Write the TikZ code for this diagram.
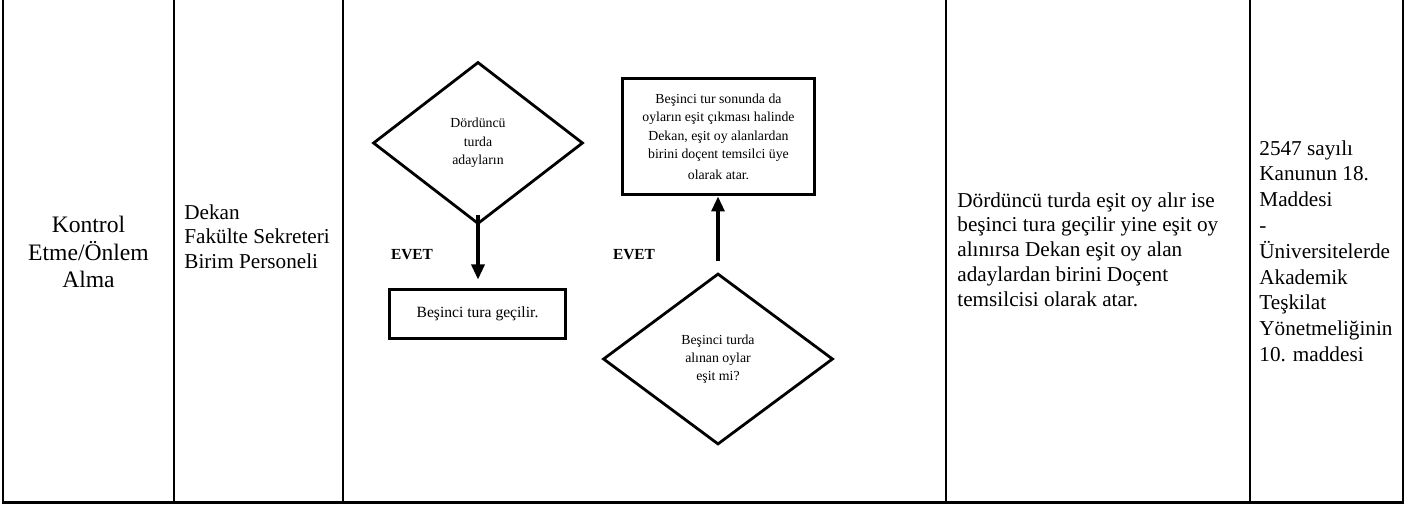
\documentclass[tikz,border=0pt]{standalone}
\usepackage{fontspec}
\setmainfont{Liberation Serif}
\usetikzlibrary{shapes.geometric, arrows.meta, positioning}
\tikzstyle{karar} = [draw=black, line width=1.4pt, diamond, inner sep=0pt, minimum width=105pt, minimum height=81pt, align=center, font=\fontsize{6.9}{9.15}\selectfont]
\tikzstyle{kutu} = [draw=black, line width=1.5pt, rectangle, inner sep=0pt, align=center]
\tikzstyle{ok} = [line width=1.6pt, -{Triangle[width=6.5pt,length=7.5pt]}]
\tikzstyle{cizgi} = [line width=1.3pt]
\tikzstyle{hucre} = [inner sep=0pt, align=left, font=\fontsize{10.6}{12.4}\selectfont]
\tikzstyle{evet} = [inner sep=0pt, font=\fontsize{7.7}{9}\selectfont\bfseries]

\begin{document}
\begin{tikzpicture}[x=0.5pt, y=-0.5pt]
	\useasboundingbox (0,0) rectangle (1416,507);
	% tablo
	\draw[cizgi] (3,0) -- (3,502.5) -- (1403,502.5) -- (1403,0);
	\foreach \x in {174,343,946,1250}
		\draw[cizgi] (\x,0) -- (\x,502.5);
	% hucreler
	\node[align=center, inner sep=0pt, font=\fontsize{11.8}{13.6}\selectfont] (asama) at (88.5,252) {Kontrol\\Etme/Önlem\\Alma};
	\node[hucre, anchor=north west] (sorumlu) at (184,204) {Dekan\\Fakülte Sekreteri\\Birim Personeli};
	\node[hucre, anchor=north west] (aciklama) at (957,192) {Dördüncü turda eşit oy alır ise\\beşinci tura geçilir yine eşit oy\\alınırsa Dekan eşit oy alan\\adaylardan birini Doçent\\temsilcisi olarak atar.};
	\node[hucre, anchor=north west, font=\fontsize{10.6}{12.9}\selectfont] (mevzuat) at (1259,140) {2547 sayılı\\Kanunun 18.\\Maddesi\\-\\Üniversitelerde\\Akademik\\Teşkilat\\Yönetmeliğinin\\10. maddesi};
	% akis
	\node[karar] (karar1) at (478,143) {Dördüncü\\turda\\adayların};
	\node[kutu, minimum width=88pt, minimum height=24pt, font=\fontsize{7.8}{9}\selectfont] (gecis) at (477.5,314) {Beşinci tura geçilir.};
	\node[kutu, minimum width=96pt, minimum height=58pt, font=\fontsize{6.9}{9.15}\selectfont] (atama) at (718.5,137) {Beşinci tur sonunda da\\oyların eşit çıkması halinde\\Dekan, eşit oy alanlardan\\birini doçent temsilci üye\\[1.5pt]olarak atar.};
	\node[karar, minimum width=115pt, minimum height=85.5pt] (karar2) at (718,359) {Beşinci turda\\alınan oylar\\eşit mi?};
	\node[evet] (evet1) at (412,255) {EVET};
	\node[evet] (evet2) at (634,255) {EVET};
	\draw[ok, shorten >=4.5pt] ([yshift=5pt]karar1.south) -- (karar1.south |- gecis.north);
	\draw[ok] ([yshift=5.5pt]karar2.north) -- (karar2.north |- atama.south);
\end{tikzpicture}
\end{document}
